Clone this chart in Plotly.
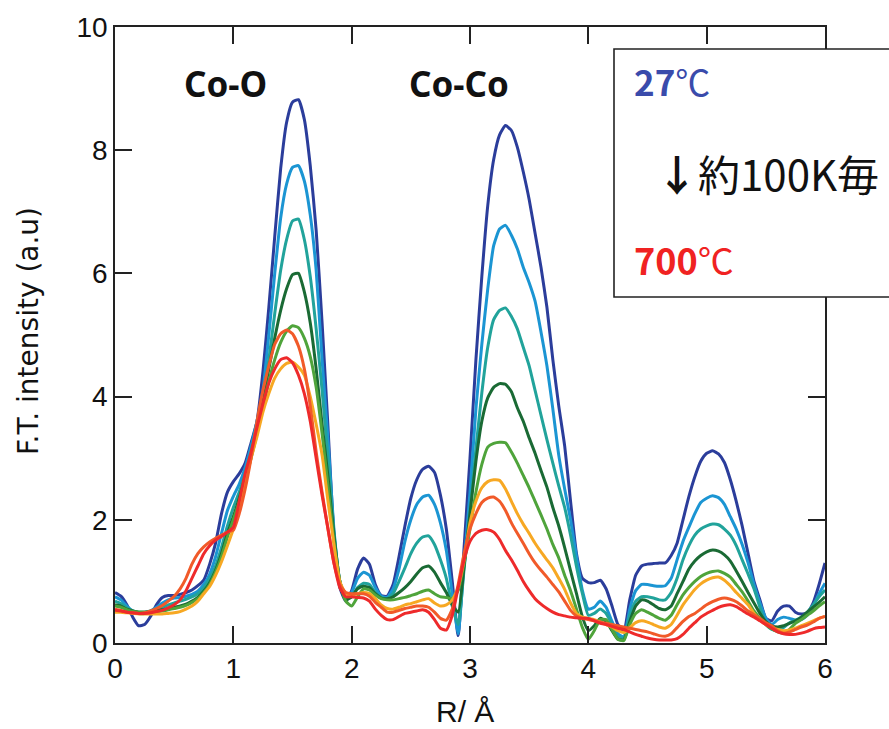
import plotly.graph_objects as go

# R grid (Å)
R = [0.00, 0.05, 0.10, 0.15, 0.20, 0.25, 0.30, 0.35, 0.40, 0.45, 0.50, 0.55, 0.60, 0.65, 0.70, 0.75, 0.80, 0.85, 0.90, 0.95,
     1.00, 1.05, 1.10, 1.15, 1.20, 1.25, 1.30, 1.35, 1.40, 1.45, 1.50, 1.55, 1.60, 1.65, 1.70, 1.75, 1.80, 1.85, 1.90, 1.95,
     2.00, 2.05, 2.10, 2.15, 2.20, 2.25, 2.30, 2.35, 2.40, 2.45, 2.50, 2.55, 2.60, 2.65, 2.70, 2.75, 2.80, 2.85, 2.90, 2.95,
     3.00, 3.05, 3.10, 3.15, 3.20, 3.25, 3.30, 3.35, 3.40, 3.45, 3.50, 3.55, 3.60, 3.65, 3.70, 3.75, 3.80, 3.85, 3.90, 3.95,
     4.00, 4.05, 4.10, 4.15, 4.20, 4.25, 4.30, 4.35, 4.40, 4.45, 4.50, 4.55, 4.60, 4.65, 4.70, 4.75, 4.80, 4.85, 4.90, 4.95,
     5.00, 5.05, 5.10, 5.15, 5.20, 5.25, 5.30, 5.35, 5.40, 5.45, 5.50, 5.55, 5.60, 5.65, 5.70, 5.75, 5.80, 5.85, 5.90, 5.95,
     6.00]

ft_27C = [.82, .76, .62, .42, .28, .30, .43, .62, .74, .77, .77, .79, .82, .86, .93, 1.02, 1.28, 1.62, 2.10, 2.45,
          2.62, 2.75, 2.92, 3.25, 3.6, 4.4, 5.45, 6.6, 7.7, 8.45, 8.78, 8.82, 8.5, 7.75, 6.7, 5.2, 3.5, 1.75, 0.9, 0.68,
          0.85, 1.2, 1.38, 1.28, 0.95, 0.77, 0.76, 0.95, 1.4, 1.9, 2.35, 2.65, 2.82, 2.87, 2.77, 2.4, 1.85, 1.0, 0.12, 1.55,
          3.0, 4.6, 5.95, 7.1, 7.85, 8.25, 8.4, 8.32, 8.05, 7.65, 7.2, 6.65, 6.1, 5.45, 4.6, 3.85, 3.2, 2.3, 1.45, 1.05,
          0.98, 0.98, 1.02, 0.88, 0.6, 0.3, 0.2, 0.7, 1.1, 1.25, 1.28, 1.29, 1.3, 1.3, 1.42, 1.62, 2.0, 2.38, 2.7, 2.95,
          3.08, 3.12, 3.07, 2.93, 2.65, 2.3, 1.9, 1.45, 1.0, 0.7, 0.4, 0.36, 0.52, 0.6, 0.6, 0.5, 0.47, 0.49, 0.65, 0.95,
          1.3]

ft_s2 = [.75, .70, .60, .52, .48, .48, .52, .58, .65, .70, .73, .74, .76, .79, .84, .95, 1.12, 1.40, 1.78, 2.15,
         2.38, 2.58, 2.85, 3.2, 3.6, 4.1, 5.0, 6.0, 6.9, 7.45, 7.72, 7.75, 7.5, 6.95, 6.05, 4.6, 3.3, 1.85, 1.0, 0.72,
         0.82, 1.05, 1.15, 1.1, 0.9, 0.76, 0.74, 0.88, 1.2, 1.65, 2.0, 2.25, 2.37, 2.4, 2.25, 1.95, 1.5, 0.8, 0.15, 1.3,
         2.45, 3.8, 4.85, 5.75, 6.45, 6.72, 6.78, 6.62, 6.4, 6.1, 5.85, 5.55, 5.05, 4.5, 3.8, 3.05, 2.5, 2.0, 1.4, 0.85,
         0.55, 0.58, 0.68, 0.58, 0.35, 0.15, 0.1, 0.55, 0.85, 0.95, 0.95, 0.93, 0.92, 0.93, 1.05, 1.35, 1.65, 1.88, 2.1, 2.28,
         2.35, 2.39, 2.36, 2.25, 2.05, 1.85, 1.6, 1.3, 0.95, 0.65, 0.4, 0.3, 0.38, 0.42, 0.4, 0.37, 0.38, 0.45, 0.6, 0.8,
         0.97]

ft_s3 = [.68, .64, .57, .52, .50, .50, .52, .55, .58, .62, .65, .68, .71, .75, .80, .90, 1.05, 1.25, 1.55, 1.90,
         2.2, 2.45, 2.75, 3.1, 3.55, 4.0, 4.6, 5.35, 6.05, 6.55, 6.85, 6.88, 6.55, 5.95, 5.1, 4.1, 3.0, 1.8, 1.0, 0.72,
         0.75, 0.9, 0.97, 0.95, 0.82, 0.74, 0.72, 0.8, 1.0, 1.22, 1.45, 1.62, 1.72, 1.74, 1.6, 1.35, 1.05, 0.6, 0.3, 1.2,
         2.15, 3.15, 4.06, 4.8, 5.25, 5.4, 5.44, 5.3, 5.1, 4.8, 4.5, 4.1, 3.7, 3.3, 2.92, 2.55, 2.2, 1.75, 1.24, 0.8,
         0.45, 0.48, 0.55, 0.48, 0.3, 0.1, 0.08, 0.45, 0.68, 0.75, 0.75, 0.73, 0.7, 0.7, 0.82, 1.05, 1.35, 1.58, 1.75, 1.85,
         1.9, 1.93, 1.92, 1.85, 1.75, 1.58, 1.35, 1.12, 0.88, 0.58, 0.3, 0.22, 0.2, 0.25, 0.33, 0.37, 0.42, 0.5, 0.62, 0.75,
         0.86]

ft_s4 = [.62, .60, .55, .52, .50, .50, .51, .53, .54, .56, .58, .60, .63, .68, .74, .84, .98, 1.18, 1.45, 1.78,
         2.05, 2.35, 2.7, 3.05, 3.5, 3.95, 4.45, 4.95, 5.4, 5.75, 5.98, 6.0, 5.7, 5.2, 4.45, 3.55, 2.7, 1.75, 1.0, 0.7,
         0.75, 0.88, 0.92, 0.9, 0.8, 0.73, 0.72, 0.75, 0.82, 0.9, 1.0, 1.12, 1.22, 1.25, 1.15, 0.98, 0.82, 0.62, 0.5, 1.25,
         2.1, 2.95, 3.6, 3.98, 4.15, 4.21, 4.2, 4.08, 3.82, 3.6, 3.33, 3.08, 2.8, 2.53, 2.2, 1.9, 1.55, 1.17, 0.8, 0.42,
         0.2, 0.28, 0.4, 0.35, 0.2, 0.06, 0.05, 0.35, 0.6, 0.7, 0.68, 0.62, 0.56, 0.54, 0.6, 0.8, 1.0, 1.2, 1.33, 1.42,
         1.48, 1.51, 1.49, 1.43, 1.33, 1.17, 1.0, 0.82, 0.65, 0.48, 0.35, 0.28, 0.26, 0.28, 0.32, 0.36, 0.42, 0.5, 0.58, 0.66,
         0.75]

ft_s5 = [.60, .58, .54, .51, .50, .50, .50, .51, .52, .54, .56, .58, .61, .66, .72, .82, .95, 1.15, 1.40, 1.72,
         2.0, 2.3, 2.65, 3.0, 3.4, 3.85, 4.25, 4.6, 4.88, 5.06, 5.15, 5.12, 4.95, 4.65, 4.15, 3.4, 2.55, 1.65, 1.0, 0.68,
         0.6, 0.75, 0.88, 0.86, 0.78, 0.72, 0.7, 0.7, 0.72, 0.74, 0.77, 0.8, 0.84, 0.86, 0.8, 0.75, 0.74, 0.72, 0.85, 1.3,
         1.85, 2.45, 2.9, 3.18, 3.24, 3.26, 3.25, 3.1, 2.92, 2.72, 2.52, 2.3, 2.08, 1.85, 1.6, 1.38, 1.1, 0.85, 0.55, 0.25,
         0.06, 0.2, 0.38, 0.38, 0.22, 0.06, 0.04, 0.3, 0.48, 0.54, 0.5, 0.45, 0.4, 0.37, 0.45, 0.62, 0.78, 0.9, 1.0, 1.08,
         1.13, 1.16, 1.17, 1.13, 1.07, 0.95, 0.83, 0.68, 0.52, 0.4, 0.3, 0.23, 0.18, 0.16, 0.22, 0.32, 0.38, 0.45, 0.52, 0.6,
         0.67]

ft_s6 = [.50, .50, .49, .48, .47, .47, .47, .47, .47, .48, .49, .51, .55, .60, .68, .80, .92, 1.10, 1.32, 1.58,
         1.85, 2.2, 2.6, 3.0, 3.35, 3.75, 4.05, 4.3, 4.45, 4.54, 4.56, 4.48, 4.35, 4.0, 3.55, 3.05, 2.3, 1.6, 1.0, 0.8,
         0.78, 0.8, 0.82, 0.8, 0.72, 0.62, 0.56, 0.55, 0.58, 0.62, 0.64, 0.67, 0.7, 0.72, 0.65, 0.6, 0.62, 0.7, 0.9, 1.35,
         1.95, 2.3, 2.52, 2.62, 2.65, 2.64, 2.5, 2.3, 2.1, 1.93, 1.78, 1.62, 1.48, 1.35, 1.22, 1.05, 0.87, 0.65, 0.48, 0.42,
         0.4, 0.38, 0.34, 0.3, 0.26, 0.2, 0.17, 0.25, 0.33, 0.36, 0.34, 0.3, 0.26, 0.24, 0.3, 0.45, 0.62, 0.75, 0.87, 0.96,
         1.02, 1.06, 1.07, 1.02, 0.93, 0.82, 0.72, 0.62, 0.48, 0.37, 0.3, 0.25, 0.22, 0.2, 0.21, 0.24, 0.28, 0.32, 0.36, 0.4,
         0.43]

ft_s7 = [.55, .53, .50, .49, .48, .49, .52, .56, .61, .68, .76, .88, 1.05, 1.28, 1.45, 1.56, 1.64, 1.70, 1.75, 1.80,
         1.83, 2.1, 2.5, 3.0, 3.6, 4.1, 4.5, 4.85, 5.02, 5.08, 5.02, 4.82, 4.45, 3.85, 3.1, 2.45, 1.85, 1.3, 0.95, 0.82,
         0.8, 0.8, 0.8, 0.76, 0.66, 0.58, 0.5, 0.5, 0.53, 0.56, 0.58, 0.6, 0.6, 0.58, 0.5, 0.4, 0.37, 0.55, 0.95, 1.45,
         1.85, 2.1, 2.28, 2.35, 2.37, 2.3, 2.15, 1.95, 1.78, 1.62, 1.45, 1.3, 1.18, 1.07, 0.95, 0.83, 0.68, 0.53, 0.44, 0.4,
         0.38, 0.36, 0.34, 0.32, 0.3, 0.28, 0.26, 0.24, 0.22, 0.2, 0.18, 0.15, 0.12, 0.11, 0.15, 0.25, 0.35, 0.43, 0.48, 0.55,
         0.62, 0.67, 0.71, 0.73, 0.71, 0.67, 0.6, 0.52, 0.46, 0.4, 0.33, 0.28, 0.2, 0.16, 0.18, 0.22, 0.26, 0.29, 0.34, 0.4,
         0.43]

ft_700C = [.53, .52, .50, .49, .48, .48, .49, .51, .53, .57, .62, .70, .85, 1.05, 1.25, 1.45, 1.58, 1.67, 1.73, 1.80,
           1.88, 2.3, 2.75, 3.1, 3.5, 3.88, 4.22, 4.45, 4.6, 4.63, 4.55, 4.35, 4.05, 3.6, 3.0, 2.4, 1.85, 1.3, 0.9, 0.75,
           0.75, 0.74, 0.73, 0.68, 0.55, 0.45, 0.38, 0.38, 0.43, 0.48, 0.5, 0.52, 0.54, 0.5, 0.38, 0.24, 0.21, 0.45, 0.9, 1.35,
           1.65, 1.78, 1.83, 1.84, 1.8, 1.68, 1.5, 1.35, 1.18, 1.0, 0.85, 0.72, 0.63, 0.56, 0.5, 0.46, 0.44, 0.42, 0.41, 0.4,
           0.4, 0.36, 0.32, 0.3, 0.27, 0.24, 0.22, 0.18, 0.14, 0.11, 0.08, 0.06, 0.05, 0.05, 0.05, 0.07, 0.14, 0.24, 0.33, 0.42,
           0.48, 0.53, 0.58, 0.61, 0.62, 0.59, 0.53, 0.47, 0.42, 0.36, 0.3, 0.24, 0.18, 0.15, 0.14, 0.14, 0.16, 0.19, 0.23, 0.25,
           0.26]

series = [ft_27C, ft_s2, ft_s3, ft_s4, ft_s5, ft_s6, ft_s7, ft_700C]
colors = ["#2b3d9b", "#1b95d3", "#21a39b", "#1a6a34", "#4fa43b", "#f7a823", "#f15a29", "#ee2a2b"]

x_ticks = [0, 1, 2, 3, 4, 5, 6]
y_ticks = [0, 2, 4, 6, 8, 10]

fig = go.Figure()
for ys, c in zip(series, colors):
    fig.add_trace(go.Scatter(x=R, y=ys, mode="lines",
                             line=dict(color=c, width=3, shape="spline", smoothing=0.5),
                             showlegend=False, hoverinfo="skip"))

L, T, W, H = 115, 27, 710, 616
def px(xp):
    return (xp - L) / W
def py(yp):
    return (T + H - yp) / H

axis_common = dict(showline=True, linecolor="#222", linewidth=1.6, mirror="ticks",
                   ticks="inside", ticklen=17, tickwidth=1.6, tickcolor="#222",
                   showgrid=False, zeroline=False,
                   tickfont=dict(family="Liberation Sans, Arial", size=28, color="#111"))

fig.update_xaxes(range=[0, 6], tickvals=x_ticks, ticktext=[str(v) for v in x_ticks], **axis_common)
fig.update_yaxes(range=[0, 10], tickvals=y_ticks, ticktext=[str(v) for v in y_ticks], **axis_common)

fig.add_shape(type="rect", xref="paper", yref="paper",
              x0=px(614), x1=px(905), y0=py(297), y1=py(49),
              line=dict(color="#222", width=1.6), fillcolor="white", layer="above")

ann_font_b = dict(family="Noto Sans", size=35, color="#111")
annotations = [
    dict(text="<b>Co-O</b>", x=px(225), y=py(83), font=ann_font_b, xanchor="center", yanchor="middle"),
    dict(text="<b>Co-Co</b>", x=px(459), y=py(83), font=ann_font_b, xanchor="center", yanchor="middle"),
    dict(text="<b>27</b>℃", x=px(632), y=py(80), xanchor="left", yanchor="middle",
         font=dict(family="Noto Sans CJK JP", size=35, color="#3a4bab")),
    dict(text="<b>↓</b>約100K毎", x=px(654), y=py(172), xanchor="left", yanchor="middle",
         font=dict(family="Noto Sans CJK JP", size=42, color="#111")),
    dict(text="<b>700</b>℃", x=px(632), y=py(259), xanchor="left", yanchor="middle",
         font=dict(family="Noto Sans CJK JP", size=36, color="#f02222")),
    dict(text="R/ Å", x=px(465), y=py(711), xanchor="center", yanchor="middle",
         font=dict(family="Liberation Sans, Arial", size=30, color="#111")),
    dict(text="F.T. intensity (a.u)", x=px(28), y=py(331), xanchor="center", yanchor="middle",
         textangle=-90, font=dict(family="DejaVu Sans", size=28, color="#111")),
]
for a in annotations:
    a.update(xref="paper", yref="paper", showarrow=False)
fig.update_layout(annotations=annotations)

fig.update_layout(width=889, height=729, margin=dict(l=L, r=889 - L - W, t=T, b=729 - T - H, pad=0),
                  paper_bgcolor="white", plot_bgcolor="white")

fig.write_html("out.html", config={"displayModeBar": False},
               post_script="document.body.style.margin='0px';document.body.style.padding='0px';"
                           "document.body.style.overflow='hidden';")
